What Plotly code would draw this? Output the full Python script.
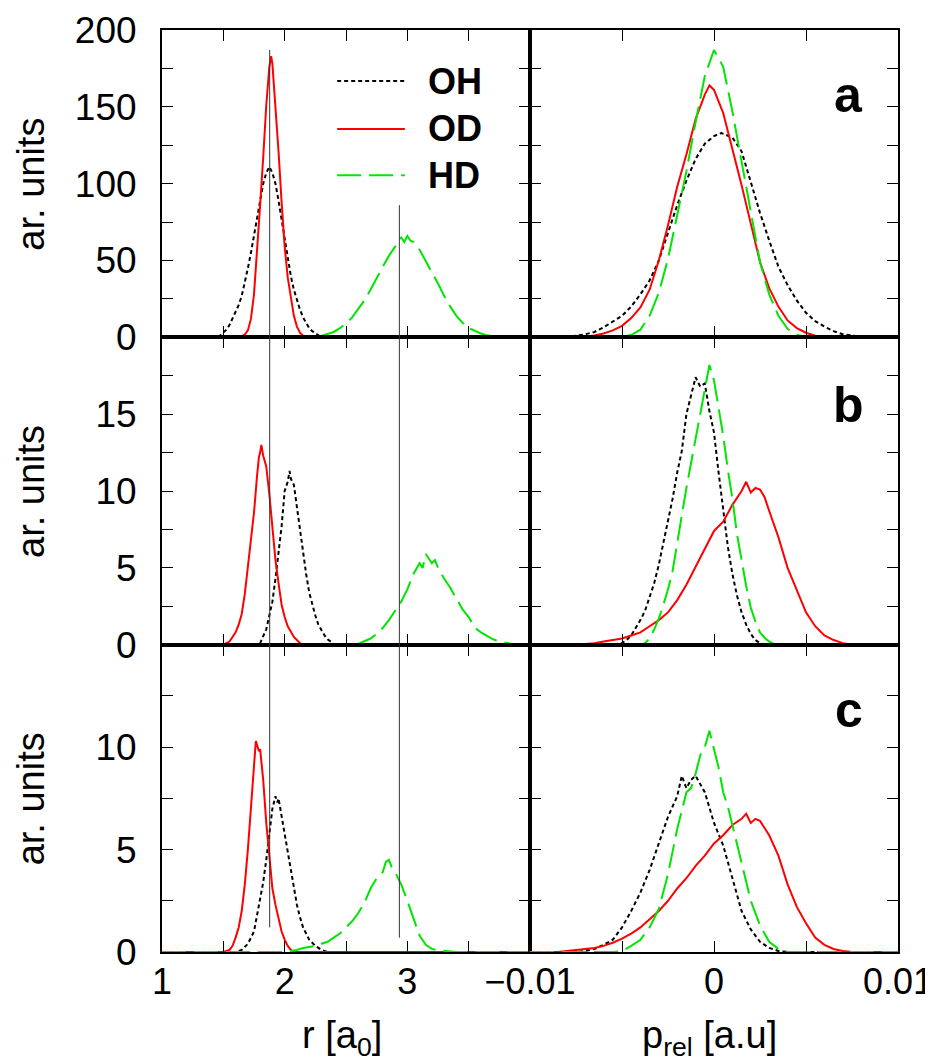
import plotly.graph_objects as go
from plotly.subplots import make_subplots

# ---------------- data ----------------
# Panel a, left: r [a0]
a_oh_r = [1.0, 1.40, 1.45, 1.475, 1.50, 1.525, 1.55, 1.575, 1.60, 1.625, 1.65, 1.675, 1.70, 1.725, 1.75, 1.775, 1.80, 1.825, 1.85, 1.875, 1.90, 1.925, 1.95, 1.975, 2.00, 2.025, 2.05, 2.075, 2.10, 2.125, 2.15, 2.175, 2.20, 2.225, 2.25, 2.275, 2.30, 2.35, 2.40, 4.0]
a_oh_v = [0, 0, 0.4, 1.2, 2.8, 5, 8, 12, 16, 21, 27, 35, 45, 55, 66, 78, 90, 100, 107, 111, 107, 100, 89, 76, 63, 50, 40, 31, 24, 18, 13, 9, 6, 4, 2.4, 1.3, 0.7, 0.2, 0, 0]
a_od_r = [1.0, 1.60, 1.625, 1.65, 1.675, 1.70, 1.725, 1.75, 1.775, 1.80, 1.825, 1.85, 1.875, 1.89, 1.90, 1.925, 1.95, 1.975, 2.00, 2.025, 2.05, 2.075, 2.10, 2.125, 2.15, 2.175, 2.20, 4.0]
a_od_v = [0, 0, 0.3, 0.8, 1.8, 4.5, 12, 28, 55, 86, 117, 151, 176, 183, 178, 152, 121, 88, 59, 39, 25, 14, 7, 3, 1, 0.3, 0, 0]
a_hd_r = [1.0, 2.20, 2.25, 2.30, 2.35, 2.40, 2.45, 2.50, 2.55, 2.60, 2.65, 2.70, 2.75, 2.80, 2.85, 2.90, 2.925, 2.95, 2.975, 3.00, 3.025, 3.05, 3.10, 3.15, 3.20, 3.25, 3.30, 3.35, 3.40, 3.45, 3.50, 3.55, 3.60, 3.65, 3.70, 3.75, 3.80, 4.0]
a_hd_v = [0, 0, 0.3, 1, 2, 3.5, 6, 9, 13, 18.5, 24, 31, 39, 46, 53, 59, 63, 65, 62, 66, 63, 62, 57, 50, 42, 35, 27, 20, 14, 9.5, 6, 4, 2.5, 1.3, 0.6, 0.2, 0, 0]

# Panel a, right: p_rel [a.u]
a_oh_p = [-0.01, -0.009, -0.008, -0.0075, -0.007, -0.0065, -0.006, -0.0055, -0.005, -0.0045, -0.004, -0.0035, -0.003, -0.0025, -0.002, -0.0015, -0.001, -0.0005, 0, 0.0004, 0.001, 0.0015, 0.002, 0.0025, 0.003, 0.0035, 0.004, 0.0045, 0.005, 0.0055, 0.006, 0.0065, 0.007, 0.0075, 0.008, 0.0085, 0.009, 0.01]
a_oh_w = [0, 0, 0.5, 1, 2, 3.5, 6.5, 10, 14, 20, 28, 37, 50, 68, 86, 102, 116, 126, 131, 133, 130, 121, 101, 81, 63, 46, 34, 24, 16, 10.5, 7, 4, 2, 1, 0.4, 0.1, 0, 0]
a_od_p = [-0.01, -0.008, -0.0075, -0.007, -0.0065, -0.006, -0.0055, -0.005, -0.0045, -0.004, -0.0035, -0.003, -0.0025, -0.002, -0.0015, -0.001, -0.0005, -0.00025, 0, 0.0005, 0.001, 0.0015, 0.002, 0.0025, 0.003, 0.0035, 0.004, 0.0045, 0.005, 0.0055, 0.006, 0.0065, 0.007, 0.01]
a_od_w = [0, 0, 0.2, 0.5, 1.2, 2.5, 4.5, 7.5, 12.5, 19.5, 31, 50, 73, 98, 119, 142, 158, 164, 161, 146, 123, 99, 74, 49, 32, 20, 11, 6, 3, 1, 0.4, 0.1, 0, 0]
a_hd_p = [-0.01, -0.006, -0.0055, -0.005, -0.0045, -0.004, -0.0035, -0.003, -0.0025, -0.002, -0.0015, -0.001, -0.0005, 0, 0.0005, 0.001, 0.0015, 0.002, 0.0025, 0.003, 0.0035, 0.004, 0.0045, 0.005, 0.0055, 0.006, 0.01]
a_hd_w = [0, 0, 0, 0.3, 1.5, 5, 14, 29, 51, 79, 108, 140, 170, 187, 176, 147, 114, 81, 49, 28, 14, 5.5, 1.5, 0.4, 0, 0, 0]

# Panel b, left
b_oh_r = [1.0, 1.775, 1.80, 1.825, 1.85, 1.875, 1.90, 1.925, 1.95, 1.975, 2.00, 2.025, 2.04, 2.05, 2.075, 2.10, 2.125, 2.15, 2.175, 2.20, 2.225, 2.25, 2.275, 2.30, 2.325, 2.35, 2.375, 2.40, 2.425, 4.0]
b_oh_v = [0, 0, 0.1, 0.5, 1.0, 1.9, 2.8, 4.3, 6.0, 7.7, 10.0, 10.6, 11.3, 10.8, 10.4, 8.9, 7.3, 6.0, 4.6, 3.4, 2.6, 1.9, 1.3, 0.9, 0.6, 0.35, 0.2, 0.05, 0, 0]
b_od_r = [1.0, 1.50, 1.525, 1.55, 1.575, 1.60, 1.625, 1.65, 1.675, 1.70, 1.725, 1.75, 1.775, 1.79, 1.80, 1.81, 1.825, 1.85, 1.875, 1.90, 1.925, 1.95, 1.975, 2.00, 2.025, 2.05, 2.075, 2.10, 2.125, 2.15, 4.0]
b_od_v = [0, 0, 0.1, 0.2, 0.5, 0.8, 1.3, 2.0, 3.3, 5.0, 6.6, 8.6, 11.0, 12.2, 12.5, 13.0, 12.3, 11.6, 9.8, 7.5, 5.5, 4.0, 2.6, 1.8, 1.2, 0.85, 0.5, 0.3, 0.1, 0, 0]
b_hd_r = [1.0, 2.55, 2.60, 2.65, 2.70, 2.75, 2.80, 2.85, 2.90, 2.95, 3.00, 3.05, 3.10, 3.125, 3.15, 3.175, 3.20, 3.225, 3.25, 3.30, 3.35, 3.40, 3.45, 3.50, 3.55, 3.60, 3.65, 3.70, 3.75, 3.80, 3.85, 3.90, 4.0]
b_hd_v = [0, 0, 0.05, 0.2, 0.4, 0.7, 1.1, 1.6, 2.2, 2.8, 3.6, 4.6, 5.3, 5.0, 5.9, 5.6, 5.3, 5.5, 5.0, 4.3, 3.7, 3.0, 2.3, 1.8, 1.1, 0.8, 0.55, 0.35, 0.2, 0.1, 0.05, 0, 0]

# Panel b, right
b_oh_p = [-0.01, -0.0055, -0.005, -0.00475, -0.0045, -0.00425, -0.004, -0.00375, -0.0035, -0.00325, -0.003, -0.00275, -0.0025, -0.00225, -0.002, -0.00175, -0.0015, -0.00125, -0.001, -0.00075, -0.0005, -0.00025, 0, 0.00025, 0.0005, 0.00075, 0.001, 0.00125, 0.0015, 0.00175, 0.002, 0.00225, 0.0025, 0.00275, 0.01]
b_oh_w = [0, 0, 0.1, 0.3, 0.6, 1.1, 1.6, 2.2, 3.1, 4.0, 5.2, 6.6, 8.0, 9.5, 11.2, 12.6, 15.0, 16.2, 17.4, 16.8, 17.0, 15.2, 13.8, 11.2, 8.8, 6.4, 4.6, 3.2, 2.1, 1.3, 0.7, 0.3, 0.1, 0, 0]
b_od_p = [-0.01, -0.0075, -0.007, -0.0065, -0.006, -0.0055, -0.005, -0.0045, -0.004, -0.0035, -0.003, -0.0025, -0.002, -0.0015, -0.001, -0.0005, 0, 0.0005, 0.001, 0.0015, 0.00175, 0.002, 0.00225, 0.0025, 0.00275, 0.003, 0.0035, 0.004, 0.0045, 0.005, 0.0055, 0.006, 0.0065, 0.007, 0.0075, 0.01]
b_od_w = [0, 0, 0.05, 0.1, 0.2, 0.3, 0.4, 0.6, 0.8, 1.2, 1.6, 2.1, 2.9, 3.9, 5.1, 6.2, 7.4, 8.0, 9.1, 10.0, 10.6, 9.9, 10.2, 10.1, 9.6, 8.7, 7.0, 5.0, 3.5, 2.1, 1.2, 0.6, 0.3, 0.1, 0, 0]
b_hd_p = [-0.01, -0.004, -0.00375, -0.0035, -0.00325, -0.003, -0.00275, -0.0025, -0.00225, -0.002, -0.00175, -0.0015, -0.00125, -0.001, -0.00075, -0.0005, -0.00025, 0, 0.00025, 0.0005, 0.00075, 0.001, 0.00125, 0.0015, 0.00175, 0.002, 0.00225, 0.0025, 0.00275, 0.003, 0.00325, 0.0035, 0.01]
b_hd_w = [0, 0, 0.1, 0.4, 1.0, 1.7, 2.6, 3.6, 4.8, 6.5, 8.4, 10.2, 11.8, 13.6, 15.2, 16.8, 18.2, 17.2, 15.4, 13.6, 11.4, 9.5, 7.2, 5.4, 3.8, 2.4, 1.5, 0.8, 0.45, 0.2, 0.05, 0, 0]

# Panel c, left
c_oh_r = [1.0, 1.60, 1.65, 1.70, 1.725, 1.75, 1.775, 1.80, 1.825, 1.85, 1.875, 1.90, 1.925, 1.94, 1.95, 1.975, 2.00, 2.025, 2.05, 2.075, 2.10, 2.125, 2.15, 2.175, 2.20, 2.25, 2.30, 2.35, 4.0]
c_oh_v = [0, 0, 0.1, 0.4, 0.7, 1.0, 1.8, 2.6, 3.4, 4.5, 5.8, 7.0, 7.6, 7.3, 7.5, 6.6, 5.8, 5.0, 4.0, 3.1, 2.3, 1.7, 1.2, 0.9, 0.6, 0.3, 0.1, 0, 0]
c_od_r = [1.0, 1.50, 1.55, 1.575, 1.60, 1.625, 1.65, 1.675, 1.70, 1.725, 1.75, 1.765, 1.775, 1.79, 1.80, 1.825, 1.85, 1.875, 1.90, 1.925, 1.95, 1.975, 2.00, 2.025, 2.05, 2.075, 4.0]
c_od_v = [0, 0, 0.1, 0.3, 0.7, 1.2, 2.0, 3.3, 5.0, 7.0, 9.3, 10.3, 10.1, 9.8, 9.9, 8.4, 6.3, 4.5, 3.1, 2.3, 1.6, 1.0, 0.6, 0.3, 0.1, 0, 0]
c_hd_r = [1.0, 2.00, 2.05, 2.10, 2.15, 2.20, 2.25, 2.30, 2.35, 2.40, 2.45, 2.50, 2.55, 2.60, 2.65, 2.70, 2.75, 2.80, 2.825, 2.85, 2.875, 2.90, 2.95, 3.00, 3.05, 3.10, 3.15, 3.20, 3.25, 3.30, 3.35, 3.40, 4.0]
c_hd_v = [0, 0, 0.05, 0.1, 0.2, 0.25, 0.3, 0.4, 0.5, 0.7, 0.9, 1.2, 1.5, 1.9, 2.4, 3.1, 3.6, 3.9, 4.4, 4.5, 4.1, 3.9, 3.3, 2.5, 1.6, 0.8, 0.35, 0.15, 0.08, 0.05, 0.02, 0, 0]

# Panel c, right
c_oh_p = [-0.01, -0.0075, -0.007, -0.0065, -0.006, -0.0055, -0.005, -0.0045, -0.004, -0.0035, -0.003, -0.0025, -0.002, -0.00175, -0.0015, -0.00125, -0.001, -0.00075, -0.0005, 0, 0.0005, 0.001, 0.0015, 0.002, 0.0025, 0.003, 0.0035, 0.004, 0.01]
c_oh_w = [0, 0, 0.05, 0.15, 0.35, 0.6, 1.2, 2.0, 2.9, 4.0, 5.3, 6.6, 7.6, 8.6, 8.0, 8.4, 8.6, 8.2, 7.8, 6.3, 5.2, 3.6, 2.0, 1.1, 0.5, 0.2, 0.05, 0, 0]
c_od_p = [-0.01, -0.0085, -0.008, -0.0075, -0.007, -0.0065, -0.006, -0.0055, -0.005, -0.0045, -0.004, -0.0035, -0.003, -0.0025, -0.002, -0.0015, -0.001, -0.0005, 0, 0.0005, 0.001, 0.0015, 0.00175, 0.002, 0.00225, 0.0025, 0.003, 0.0035, 0.004, 0.0045, 0.005, 0.0055, 0.006, 0.0065, 0.007, 0.0075, 0.01]
c_od_w = [0, 0, 0.05, 0.1, 0.15, 0.2, 0.3, 0.45, 0.65, 0.9, 1.2, 1.6, 2.0, 2.5, 3.1, 3.6, 4.2, 4.7, 5.3, 5.7, 6.2, 6.5, 6.75, 6.3, 6.5, 6.4, 5.7, 4.7, 3.3, 2.2, 1.4, 0.7, 0.35, 0.15, 0.05, 0, 0]
c_hd_p = [-0.01, -0.0055, -0.005, -0.0045, -0.004, -0.0035, -0.003, -0.0025, -0.002, -0.0015, -0.00125, -0.001, -0.00075, -0.0005, -0.00025, 0, 0.00025, 0.0005, 0.00075, 0.001, 0.0015, 0.002, 0.0025, 0.003, 0.0035, 0.004, 0.01]
c_hd_w = [0, 0, 0.05, 0.3, 0.6, 1.2, 2.1, 3.8, 6.0, 7.8, 8.0, 8.7, 9.6, 10.0, 10.8, 9.9, 9.0, 7.8, 7.1, 6.2, 4.4, 2.5, 1.3, 0.5, 0.15, 0, 0]

series_names = ["OH", "OD", "HD"]
panel_labels = ["a", "b", "c"]
y_title = "ar. units"
x_titles = ["r [a<sub>0</sub>]", "p<sub>rel</sub> [a.u]"]

# axis definitions
r_range = [1, 4]
r_tickvals = [1, 2, 3]
r_ticktext = ["1", "2", "3"]
r_minor_step = 0.5
p_range = [-0.01, 0.01]
p_tickvals = [-0.01, 0, 0.01]
p_ticktext = ["\u22120.01", "0", "0.01"]
p_minor_step = 0.005
y_ranges = [[0, 200], [0, 20], [0, 15]]
y_tickvals = [[0, 50, 100, 150, 200], [0, 5, 10, 15], [0, 5, 10]]
y_minor_steps = [25, 2.5, 2.5]

# vertical guide lines (r value, top in panel a units, bottom in panel c units)
guide_r = [1.878, 2.935]
guide_top_a = [187, 86]
guide_bottom_c = [1.2, 0.7]

# ---------------- figure ----------------
FONT = "Liberation Sans, Arial, Helvetica, sans-serif"
styles = {
    "OH": dict(color="black", width=2, dash="4px,3px"),
    "OD": dict(color="#ff0000", width=2, dash="solid"),
    "HD": dict(color="#00e600", width=2, dash="24px,8px"),
}

fig = make_subplots(rows=3, cols=2, horizontal_spacing=0, vertical_spacing=0)

panels = [
    (1, [(a_oh_r, a_oh_v), (a_od_r, a_od_v), (a_hd_r, a_hd_v)],
        [(a_oh_p, a_oh_w), (a_od_p, a_od_w), (a_hd_p, a_hd_w)]),
    (2, [(b_oh_r, b_oh_v), (b_od_r, b_od_v), (b_hd_r, b_hd_v)],
        [(b_oh_p, b_oh_w), (b_od_p, b_od_w), (b_hd_p, b_hd_w)]),
    (3, [(c_oh_r, c_oh_v), (c_od_r, c_od_v), (c_hd_r, c_hd_v)],
        [(c_oh_p, c_oh_w), (c_od_p, c_od_w), (c_hd_p, c_hd_w)]),
]

for row, left, right in panels:
    for name, (xs, ys) in zip(series_names, left):
        fig.add_trace(go.Scatter(x=xs, y=ys, mode="lines", name=name,
                                 line=styles[name], showlegend=False),
                      row=row, col=1)
    for name, (xs, ys) in zip(series_names, right):
        fig.add_trace(go.Scatter(x=xs, y=ys, mode="lines", name=name,
                                 line=styles[name], showlegend=False),
                      row=row, col=2)

TICKLEN = 11
axis_common = dict(showline=True, linewidth=2, linecolor="black", mirror="ticks",
                   ticks="inside", ticklen=TICKLEN, tickwidth=1.3, tickcolor="black",
                   showgrid=False, zeroline=False, automargin=False,
                   ticklabeloverflow="allow")

def minor(step):
    return dict(ticks="inside", ticklen=TICKLEN, tickwidth=1.3, tickcolor="black",
                dtick=step, tick0=0, showgrid=False)

xfont = dict(family=FONT, size=36, color="black")
yfont = dict(family=FONT, size=37, color="black")

for row in range(1, 4):
    fig.update_xaxes(range=r_range, tickmode="array", tickvals=r_tickvals, ticktext=r_ticktext,
                     minor=minor(r_minor_step), showticklabels=(row == 3), tickfont=xfont,
                     ticklabelstandoff=-3, row=row, col=1, **axis_common)
    fig.update_xaxes(range=p_range, tickmode="array", tickvals=p_tickvals, ticktext=p_ticktext,
                     minor=minor(p_minor_step), showticklabels=(row == 3), tickfont=xfont,
                     ticklabelstandoff=-3, row=row, col=2, **axis_common)
    fig.update_yaxes(range=y_ranges[row - 1], tickmode="array", tickvals=y_tickvals[row - 1],
                     minor=minor(y_minor_steps[row - 1]), showticklabels=True, tickfont=yfont,
                     ticklabelstandoff=16, row=row, col=1, **axis_common)
    fig.update_yaxes(range=y_ranges[row - 1], tickmode="array", tickvals=y_tickvals[row - 1],
                     minor=minor(y_minor_steps[row - 1]), showticklabels=False,
                     row=row, col=2, **axis_common)

# y-axis titles (one per row, all at the same horizontal position)
for yax in ["yaxis", "yaxis3", "yaxis5"]:
    dom = fig.layout[yax].domain
    fig.add_annotation(xref="paper", yref="paper", x=-0.178, y=(dom[0] + dom[1]) / 2,
                       text=y_title, textangle=-90, showarrow=False,
                       xanchor="center", yanchor="middle",
                       font=dict(family=FONT, size=38, color="black"))

# x-axis titles
for txt, xax in zip(x_titles, ["xaxis5", "xaxis6"]):
    dom = fig.layout[xax].domain
    fig.add_annotation(xref="paper", yref="paper", x=(dom[0] + dom[1]) / 2 - 0.006, y=-0.093,
                       text=txt, showarrow=False, xanchor="center", yanchor="middle",
                       font=dict(family=FONT, size=38, color="black"))

# vertical guide lines spanning the left column
dom_top = fig.layout.yaxis.domain
dom_bot = fig.layout.yaxis5.domain
for r, ytop, ybot in zip(guide_r, guide_top_a, guide_bottom_c):
    y1 = dom_top[0] + (dom_top[1] - dom_top[0]) * (ytop - y_ranges[0][0]) / (y_ranges[0][1] - y_ranges[0][0])
    y0 = dom_bot[0] + (dom_bot[1] - dom_bot[0]) * (ybot - y_ranges[2][0]) / (y_ranges[2][1] - y_ranges[2][0])
    fig.add_shape(type="line", xref="x", yref="paper", x0=r, x1=r, y0=y0, y1=y1,
                  line=dict(color="#333333", width=1))

# legend drawn inside panel a (left)
legend_rows = [0.834, 0.678, 0.527]
for name, yy in zip(series_names, legend_rows):
    fig.add_shape(type="line", xref="x domain", yref="y domain", x0=0.476, x1=0.66, y0=yy, y1=yy,
                  line=styles[name])
    fig.add_annotation(xref="x domain", yref="y domain", x=0.718, y=yy, text="<b>%s</b>" % name,
                       showarrow=False, xanchor="left", yanchor="middle",
                       font=dict(family=FONT, size=36, color="black"))

# panel letters
letter_pos = [("y2 domain", 0.79), ("y4 domain", 0.78), ("y6 domain", 0.788)]
xrefs = ["x2 domain", "x4 domain", "x6 domain"]
for lab, (yref, yy), xref in zip(panel_labels, letter_pos, xrefs):
    fig.add_annotation(xref=xref, yref=yref, x=0.866, y=yy, text="<b>%s</b>" % lab,
                       showarrow=False, xanchor="center", yanchor="middle",
                       font=dict(family=FONT, size=50, color="black"))

# the page body has an 8px margin, so the figure is sized to end at the window edge
fig.update_layout(width=925, height=1054, margin=dict(l=154, r=35, t=22, b=110),
                  paper_bgcolor="white", plot_bgcolor="white", showlegend=False,
                  font=dict(family=FONT, color="black"))

fig.write_html("out.html")
